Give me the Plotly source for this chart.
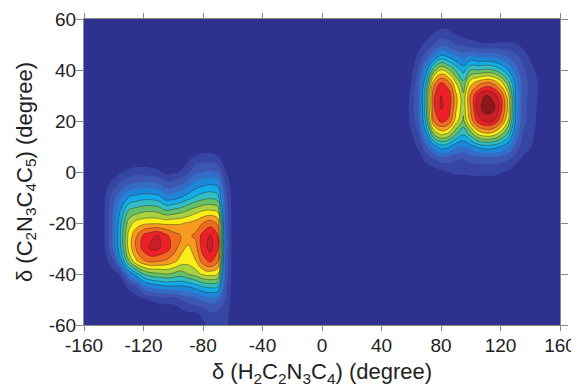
import numpy as np
import plotly.graph_objects as go

# Full grid (degrees)
grid_x = list(range(-160, 161, 5))
grid_y = list(range(-60, 61, 5))

# Left population: density levels (rows top->bottom)
left_x = list(range(-150, -54, 5))
left_y = [15, 10, 5, 0, -5, -10, -15, -20, -25, -30, -35, -40, -45, -50, -55, -60]
left_z = [
    [0, 0, 0, 0, 0, 0, 0, 0, 0, 0, 0, 0, 0, 0, 0, 0, 0, 0, 0, 0],
    [0, 0, 0, 0, 0, 0, 0, 0, 0, 0, 0, 0, 0, 0, 0.3, 0.3, 0, 0, 0, 0],
    [0, 0, 0, 0, 0, 0.2, 0.2, 0.2, 0.1, 0, 0, 0.3, 0.8, 1.4, 1.6, 1.6, 1.3, 0.4, 0, 0],
    [0, 0, 0.4, 0.9, 1.3, 1.5, 1.5, 1.4, 1.2, 0.7, 0.8, 1.1, 1.8, 2.8, 3.0, 3.2, 2.9, 1.2, 0.1, 0],
    [0, 0.7, 1.6, 2.3, 3.0, 3.3, 3.4, 3.4, 3.2, 2.5, 2.6, 3.0, 3.6, 4.4, 4.8, 5.0, 4.7, 2.0, 0.3, 0],
    [0, 1.2, 2.7, 3.9, 5.0, 5.4, 5.6, 5.6, 5.4, 4.5, 4.6, 5.0, 5.6, 6.2, 6.6, 6.8, 6.4, 2.5, 0.5, 0],
    [0, 1.3, 3.2, 5.2, 7.0, 7.4, 7.7, 7.8, 7.6, 7.0, 7.2, 7.5, 8.0, 8.5, 8.9, 9.0, 8.6, 2.8, 0.5, 0],
    [0, 1.3, 3.4, 6.0, 8.5, 9.4, 9.7, 9.8, 9.8, 9.7, 9.8, 9.9, 10.1, 10.4, 11.0, 11.5, 10.8, 3.0, 0.5, 0],
    [0, 1.3, 3.5, 6.3, 9.3, 10.8, 12.2, 12.8, 13.1, 12.3, 11.5, 11.0, 10.8, 11.2, 12.4, 13.1, 12.0, 3.2, 0.5, 0],
    [0, 1.2, 3.3, 6.1, 9.3, 11.0, 12.4, 13.2, 13.1, 12.5, 11.6, 10.4, 9.7, 10.6, 12.5, 13.3, 12.1, 3.2, 0.5, 0],
    [0, 0.8, 2.0, 4.8, 7.8, 9.8, 10.8, 11.2, 11.0, 10.8, 10.3, 9.6, 9.4, 9.9, 11.5, 12.2, 11.2, 3.0, 0.5, 0],
    [0, 0.3, 0.6, 1.3, 4.0, 5.5, 7.0, 7.6, 7.8, 8.0, 7.8, 7.5, 8.0, 8.5, 9.2, 9.4, 9.0, 2.8, 0.5, 0],
    [0, 0, 0.1, 0.3, 1.3, 2.0, 3.5, 4.2, 4.5, 4.8, 4.8, 4.8, 5.0, 5.4, 6.0, 6.2, 6.0, 2.4, 0.5, 0],
    [0, 0, 0, 0, 0.2, 0.4, 0.8, 1.1, 1.3, 1.4, 1.4, 2.0, 2.4, 2.8, 3.2, 3.5, 3.2, 2.0, 0.4, 0],
    [0, 0, 0, 0, 0, 0, 0, 0.1, 0.2, 0.3, 0.4, 0.6, 1.0, 1.0, 1.3, 2.0, 1.8, 1.6, 0.4, 0],
    [0, 0, 0, 0, 0, 0, 0, 0, 0, 0, 0, 0.2, 0.4, 0.3, 0.8, 1.2, 1.2, 1.3, 0.4, 0],
]

# Right population
right_x = list(range(50, 151, 5))
right_y = [60, 55, 50, 45, 40, 35, 30, 25, 20, 15, 10, 5, 0, -5, -10]
right_z = [
    [0, 0, 0, 0, 0, 0, 0, 0, 0, 0, 0, 0, 0, 0, 0, 0, 0, 0, 0, 0, 0],
    [0, 0, 0, 0, 0.3, 0.9, 1.3, 1.2, 0.7, 0.3, 0.3, 0.2, 0.1, 0.1, 0.1, 0.1, 0.1, 0, 0, 0, 0],
    [0, 0, 0.1, 0.6, 1.3, 2.0, 2.6, 2.4, 2.0, 1.8, 1.4, 1.2, 1.1, 1.1, 1.2, 1.2, 1.1, 0.7, 0.2, 0, 0],
    [0, 0, 0.2, 1.4, 2.6, 4.2, 5.5, 5.0, 4.2, 3.8, 4.3, 4.0, 4.0, 3.9, 3.5, 3.0, 2.4, 1.6, 0.9, 0.3, 0],
    [0, 0, 0.6, 2.2, 4.5, 7.5, 9.0, 8.2, 6.8, 5.6, 7.0, 7.0, 7.2, 7.0, 6.2, 5.0, 3.5, 2.2, 1.4, 0.7, 0],
    [0, 0, 1.0, 2.8, 6.0, 10.5, 12.1, 11.3, 9.0, 7.3, 9.6, 10.5, 11.0, 10.8, 9.5, 7.5, 4.7, 2.5, 1.7, 1.0, 0],
    [0, 0.2, 1.3, 3.0, 6.8, 11.8, 13.0, 12.7, 10.3, 8.2, 11.2, 13.0, 14.1, 13.7, 12.0, 9.5, 5.0, 2.5, 1.7, 1.0, 0],
    [0, 0.2, 1.4, 3.0, 6.8, 11.8, 13.1, 12.6, 10.2, 8.3, 11.0, 13.5, 14.7, 14.4, 12.6, 9.8, 5.0, 2.4, 1.6, 0.9, 0],
    [0, 0.2, 1.3, 2.8, 6.3, 11.0, 12.3, 11.8, 9.5, 7.8, 10.4, 12.5, 13.2, 13.0, 11.5, 9.0, 4.8, 2.3, 1.6, 0.8, 0],
    [0, 0, 0.9, 2.0, 4.8, 8.0, 9.3, 8.8, 7.2, 6.2, 7.5, 9.2, 9.8, 9.6, 8.5, 6.8, 4.0, 2.0, 1.4, 0.6, 0],
    [0, 0, 0.5, 1.2, 2.8, 4.5, 5.5, 5.2, 4.3, 4.0, 4.6, 5.3, 5.6, 5.5, 5.0, 4.2, 2.8, 1.5, 1.1, 0.3, 0],
    [0, 0, 0, 0.5, 1.3, 1.9, 2.5, 2.4, 2.1, 2.0, 2.3, 2.4, 2.4, 2.5, 2.4, 2.1, 1.4, 0.8, 0.5, 0, 0],
    [0, 0, 0, 0, 0.2, 0.4, 0.7, 1.0, 1.2, 1.2, 1.3, 1.3, 1.3, 1.3, 1.1, 0.9, 0.4, 0, 0, 0, 0],
    [0, 0, 0, 0, 0, 0, 0, 0.1, 0.2, 0.2, 0.3, 0.3, 0.3, 0.3, 0.1, 0, 0, 0, 0, 0, 0],
    [0, 0, 0, 0, 0, 0, 0, 0, 0, 0, 0, 0, 0, 0, 0, 0, 0, 0, 0, 0, 0],
]

x_ticks = [-160, -120, -80, -40, 0, 40, 80, 120, 160]
x_labels = ["-160", "-120", "-80", "-40", "0", "40", "80", "120", "160"]
y_ticks = [-60, -40, -20, 0, 20, 40, 60]
y_labels = ["-60", "-40", "-20", "0", "20", "40", "60"]

band_colors = [
    "rgb(45,50,145)", "rgb(56,70,163)", "rgb(60,86,178)", "rgb(52,108,198)",
    "rgb(30,134,214)", "rgb(20,172,232)", "rgb(50,190,195)", "rgb(100,192,105)",
    "rgb(168,208,65)", "rgb(250,238,25)", "rgb(247,155,30)", "rgb(242,105,34)",
    "rgb(236,32,38)", "rgb(205,30,38)", "rgb(140,24,28)",
]

# assemble the table
Z = np.zeros((len(grid_y), len(grid_x)))
for xs, ys, zs in [(left_x, left_y, left_z), (right_x, right_y, right_z)]:
    for i, yy in enumerate(ys):
        for j, xx in enumerate(xs):
            Z[grid_y.index(yy), grid_x.index(xx)] += zs[i][j]

n = len(band_colors)
cscale = [[k / (n - 1), c] for k, c in enumerate(band_colors)]

fig = go.Figure()
fig.add_trace(go.Contour(
    x=grid_x, y=grid_y, z=Z,
    colorscale=cscale, showscale=False,
    autocontour=False,
    contours=dict(start=1, end=14, size=1, coloring="fill"),
    line=dict(width=0, smoothing=1.3),
    hoverinfo="skip",
))
# thin dark isolines on the inner levels
fig.add_trace(go.Contour(
    x=grid_x, y=grid_y, z=Z,
    showscale=False, autocontour=False,
    contours=dict(start=5, end=14, size=1, coloring="none"),
    line=dict(color="rgba(40,40,40,0.55)", width=0.8, smoothing=1.3),
    hoverinfo="skip",
))

font_family = "Arial, Liberation Sans, sans-serif"
fig.update_layout(
    width=571, height=379,
    margin=dict(l=76, r=19, t=11, b=62),
    paper_bgcolor="white", plot_bgcolor=band_colors[0],
    font=dict(family=font_family, size=19, color="#222"),
    showlegend=False,
)
fig.update_xaxes(
    range=[-160, 160], tickvals=x_ticks, ticktext=x_labels,
    ticks="outside", ticklen=5, tickcolor="#888",
    showline=True, linecolor="#888", linewidth=1, mirror="ticks",
    showgrid=False, zeroline=False, automargin=False,
    tickfont=dict(size=19), ticklabelstandoff=-2,
    title=dict(text="δ (H<sub>2</sub>C<sub>2</sub>N<sub>3</sub>C<sub>4</sub>) (degree)",
               font=dict(size=22), standoff=10),
)
fig.update_yaxes(
    range=[-60, 60], tickvals=y_ticks, ticktext=y_labels,
    ticks="outside", ticklen=7, tickcolor="#888",
    showline=True, linecolor="#888", linewidth=1, mirror="ticks",
    showgrid=False, zeroline=False, automargin=False,
    tickfont=dict(size=19), ticklabelstandoff=-4,
    title=dict(text="δ (C<sub>2</sub>N<sub>3</sub>C<sub>4</sub>C<sub>5</sub>) (degree)",
               font=dict(size=22), standoff=10),
)

fig.write_html("out.html")
